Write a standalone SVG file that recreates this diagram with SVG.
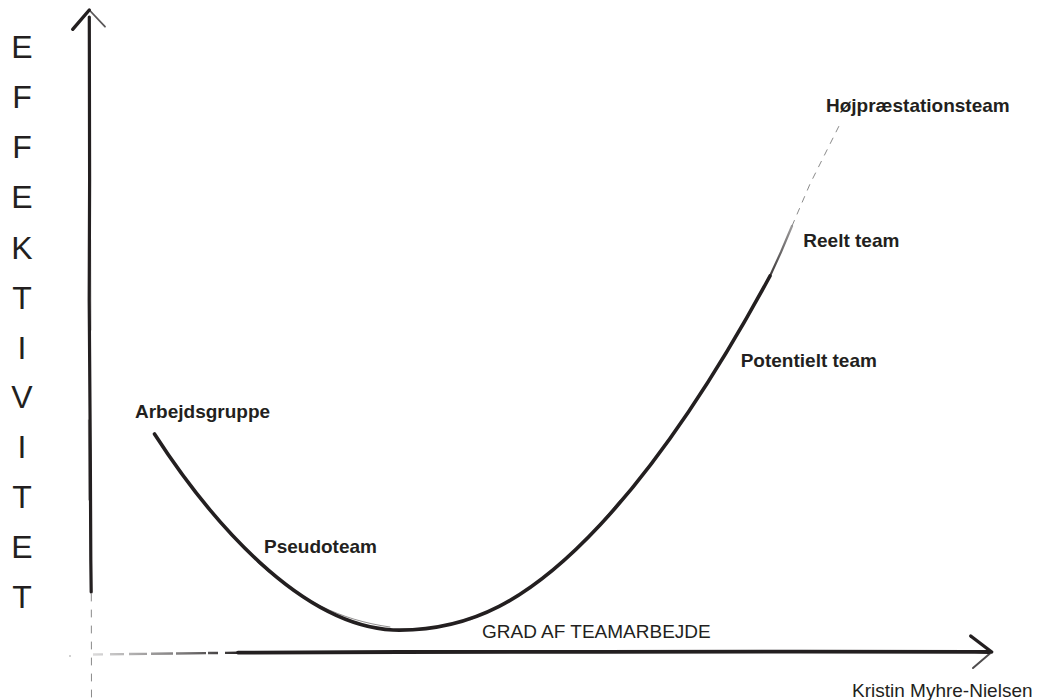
<svg xmlns="http://www.w3.org/2000/svg" width="1039" height="700" viewBox="0 0 1039 700">
  <style>
    .axisLetter { font-family: "Liberation Sans", Arial, sans-serif; font-size: 32px; fill: #231f20; text-anchor: middle; }
    .lbl { font-family: "Liberation Sans", Arial, sans-serif; font-size: 19px; font-weight: bold; fill: #231f20; }
    .plain { font-family: "Liberation Sans", Arial, sans-serif; font-size: 19px; fill: #231f20; }
    .ink { fill: none; stroke: #231f20; stroke-linecap: round; stroke-linejoin: round; }
    .faint { fill: none; stroke: #8a8a8a; stroke-width: 1; stroke-linecap: round; }
  </style>
  <defs>
    <linearGradient id="xFade" gradientUnits="userSpaceOnUse" x1="90" y1="0" x2="245" y2="0">
      <stop offset="0" stop-color="#231f20" stop-opacity="0.15"/>
      <stop offset="0.6" stop-color="#231f20" stop-opacity="0.6"/>
      <stop offset="1" stop-color="#231f20" stop-opacity="1"/>
    </linearGradient>
    <linearGradient id="curveFade" gradientUnits="userSpaceOnUse" x1="0" y1="290" x2="0" y2="215">
      <stop offset="0" stop-color="#231f20" stop-opacity="1"/>
      <stop offset="1" stop-color="#231f20" stop-opacity="0.35"/>
    </linearGradient>
  </defs>
  <rect width="1039" height="700" fill="#ffffff"/>

  <g id="y-axis-label">
    <text class="axisLetter" x="22" y="58.3">E</text>
    <text class="axisLetter" x="22" y="108.3">F</text>
    <text class="axisLetter" x="22" y="158.3">F</text>
    <text class="axisLetter" x="22" y="208.3">E</text>
    <text class="axisLetter" x="22" y="258.5">K</text>
    <text class="axisLetter" x="22" y="308.5">T</text>
    <text class="axisLetter" x="22" y="358.5">I</text>
    <text class="axisLetter" x="22" y="408.3">V</text>
    <text class="axisLetter" x="22" y="458.3">I</text>
    <text class="axisLetter" x="22" y="508.3">T</text>
    <text class="axisLetter" x="22" y="558.3">E</text>
    <text class="axisLetter" x="22" y="608.3">T</text>
  </g>

  <g id="connectors">
    <!-- Y axis -->
    <g id="y-axis">
      <path class="ink" stroke-width="3.2" d="M89.3,17 L89.6,180 L89.2,300 L90.3,450 L90.8,560 L91.2,592"/>
      <path class="ink" stroke-width="0.8" opacity="0.6" d="M90.6,240 L90.9,330 M88.4,420 L88.8,500"/>
      <path class="faint" stroke-dasharray="7 9" d="M91.3,594 L91.5,698"/>
      <path class="ink" stroke-width="3.4" d="M72.7,29.3 L89.3,10"/>
      <path class="ink" stroke-width="1.8" opacity="0.75" d="M89.3,10 L105,26.7"/>
    </g>
    <!-- X axis -->
    <g id="x-axis">
      <circle cx="70" cy="656" r="0.8" fill="#999"/>
      <path fill="none" stroke="url(#xFade)" stroke-width="2.4" stroke-dasharray="10 7 14 5 18 4 22 3 30 2" d="M93,654.5 L245,652.6"/>
      <path class="ink" stroke-width="3.8" d="M238,652.6 L400,652 L600,651.8 L800,651.6 L975,651.8 L989,652"/>
      <path class="ink" stroke-width="3.4" d="M970.7,636 L991.7,652"/>
      <path class="ink" stroke-width="2" opacity="0.8" d="M991.7,652 L973,668"/>
    </g>
    <!-- Curve -->
    <g id="curve">
      <path class="ink" stroke-width="3.6" d="M154.5,434 C210,520 300,625 393,630 C470,632 530,600 600,525 C670,450 730,350 770,276"/>
      <path class="ink" stroke-width="1" opacity="0.5" d="M257,562 C300,600 340,620 390,627 M470,620 C540,590 570,560 620,500"/>
      <path fill="none" stroke="url(#curveFade)" stroke-width="2.2" stroke-linecap="round" d="M770,276 L781,252 L792,226"/>
      <path class="faint" stroke-dasharray="6 7" d="M792,226 L810,184 L826,152 L839,126"/>
    </g>
  </g>

  <g id="node-arbejdsgruppe"><text class="lbl" x="135" y="417.5">Arbejdsgruppe</text></g>
  <g id="node-pseudoteam"><text class="lbl" x="264" y="552.7">Pseudoteam</text></g>
  <g id="node-potentielt"><text class="lbl" x="740.7" y="366.7">Potentielt team</text></g>
  <g id="node-reelt"><text class="lbl" x="803.3" y="246.5">Reelt team</text></g>
  <g id="node-hoej"><text class="lbl" x="826" y="111.7">Højpræstationsteam</text></g>
  <g id="x-axis-label"><text class="plain" x="482" y="638">GRAD AF TEAMARBEJDE</text></g>
  <g id="author"><text class="plain" x="852" y="696.7">Kristin Myhre-Nielsen</text></g>
</svg>
